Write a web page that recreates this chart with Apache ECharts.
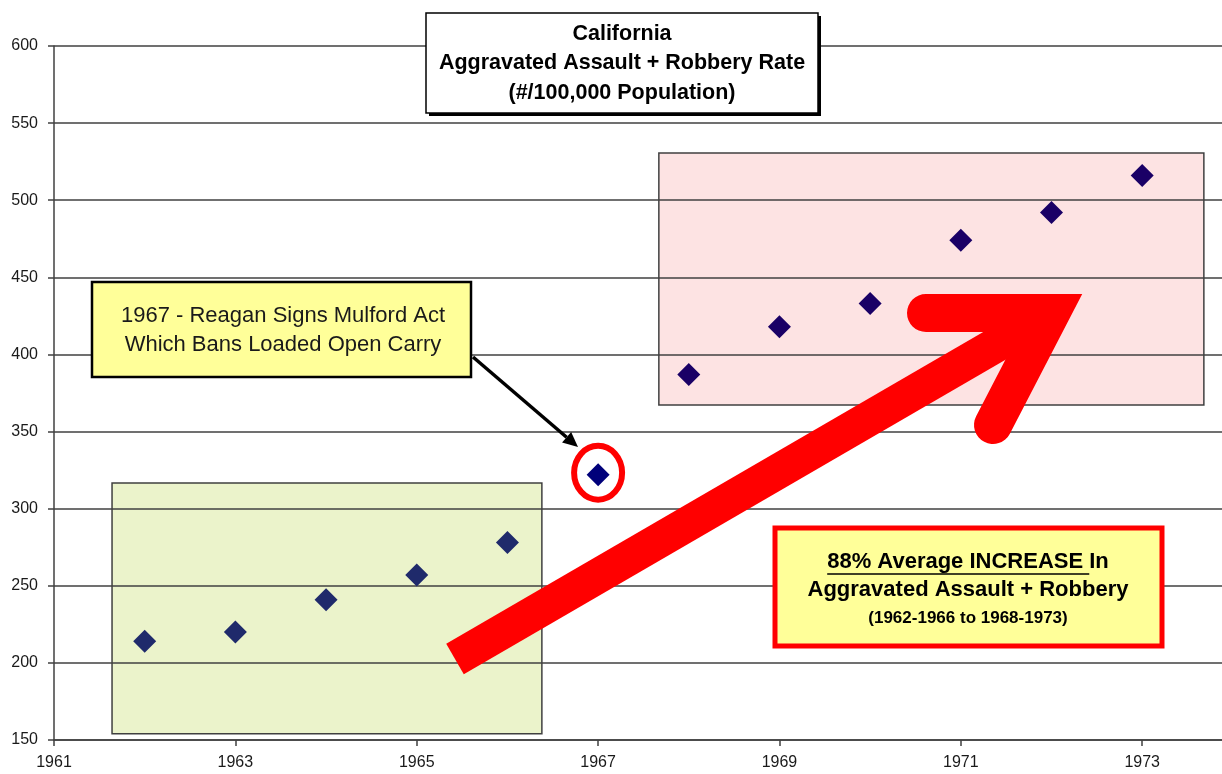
<!DOCTYPE html>
<html>
<head>
<meta charset="utf-8">
<script src="https://cdn.jsdelivr.net/npm/echarts@6/dist/echarts.min.js"></script>
<style>
  html, body { margin: 0; padding: 0; background: #fff; }
  #chart { width: 1222px; height: 774px; }
</style>
</head>
<body>
<div id="chart"></div>
<script>
  // data
  var years = [1962, 1963, 1964, 1965, 1966, 1967, 1968, 1969, 1970, 1971, 1972, 1973];
  var rates = [214, 220, 241, 257, 278, 322, 387, 418, 433, 474, 492, 516];

  // x axis runs a little past 1973 (plot is cut at the right edge)
  var xMin = 1961, xMax = 1973.88, xStep = 2;
  var yMin = 150, yMax = 600, yStep = 50;

  // shaded periods: [x0, y0, x1, y1] in data units
  var periodBoxes = [
    [1961.64, 154, 1966.38, 316.7],
    [1967.67, 367.2, 1973.68, 530.6]
  ];
  var boxFills = ["#ebf3cb", "#fde3e3"];

  var markedYear = 1967;
  var FONT = "'Liberation Sans', Arial, sans-serif";

  var points = years.map(function (y, i) { return [y, rates[i]]; });

  var myChart = echarts.init(document.getElementById("chart"));
  myChart.setOption({
    animation: false,
    grid: { left: 54, top: 46, right: 0, height: 694 },
    xAxis: {
      type: "value",
      min: xMin,
      max: xMax,
      interval: xStep,
      axisLine: { lineStyle: { color: "#404040", width: 1.5 } },
      axisTick: { length: 6, lineStyle: { color: "#404040", width: 1.5 } },
      axisLabel: {
        showMaxLabel: false,
        margin: 15,
        color: "#1a1a1a",
        fontFamily: FONT,
        fontSize: 16,
        formatter: function (v) { return String(v); }
      },
      splitLine: { show: false }
    },
    yAxis: {
      type: "value",
      min: yMin,
      max: yMax,
      interval: yStep,
      axisLine: { show: true, lineStyle: { color: "#404040", width: 1.5 } },
      axisTick: { show: true, length: 6, lineStyle: { color: "#404040", width: 1.5 } },
      axisLabel: { margin: 16, color: "#1a1a1a", fontFamily: FONT, fontSize: 16 },
      splitLine: { lineStyle: { color: "#404040", width: 1.5 } }
    },
    series: [
      {
        type: "custom",
        z: -1,
        silent: true,
        data: periodBoxes,
        renderItem: function (params, api) {
          var p0 = api.coord([api.value(0), api.value(3)]);
          var p1 = api.coord([api.value(2), api.value(1)]);
          return {
            type: "rect",
            shape: { x: p0[0], y: p0[1], width: p1[0] - p0[0], height: p1[1] - p0[1] },
            style: { fill: boxFills[params.dataIndex], stroke: "#404040", lineWidth: 1.5 }
          };
        }
      },
      {
        type: "scatter",
        symbol: "diamond",
        symbolSize: [23, 23],
        z: 3,
        data: points,
        itemStyle: {
          opacity: 1,
          color: function (p) {
            var yr = p.data[0];
            if (yr < markedYear) return "#1f2a6b";
            if (yr === markedYear) return "#00007a";
            return "#1a0066";
          }
        }
      }
    ]
  });

  // annotations
  var ctx = document.createElement("canvas").getContext("2d");
  ctx.font = "bold 22px " + FONT;
  var line1 = "88% Average INCREASE In";
  var fullW = ctx.measureText(line1).width;
  var ulW = ctx.measureText("88% Average INCREASE ").width;
  var cx88 = 968;
  var ulX0 = cx88 - fullW / 2;

  var mp = myChart.convertToPixel({ gridIndex: 0 }, [markedYear, rates[years.indexOf(markedYear)]]);

  // black pointer arrow
  var a0 = [473, 357], a1 = [578, 447];
  var dx = a1[0] - a0[0], dy = a1[1] - a0[1], dl = Math.sqrt(dx * dx + dy * dy);
  var ux = dx / dl, uy = dy / dl;
  var hb = [a1[0] - 15 * ux, a1[1] - 15 * uy];

  myChart.setOption({
    graphic: [
      // title box
      { type: "rect", z: 10, shape: { x: 429, y: 16, width: 392, height: 100 }, style: { fill: "#000" } },
      { type: "rect", z: 11, shape: { x: 426, y: 13, width: 392, height: 100 }, style: { fill: "#fff", stroke: "#000", lineWidth: 1.5 } },
      { type: "text", z: 12, x: 622, y: 34, style: { text: "California", font: "bold 21.5px " + FONT, fill: "#000", align: "center", verticalAlign: "middle" } },
      { type: "text", z: 12, x: 622, y: 63, style: { text: "Aggravated Assault + Robbery Rate", font: "bold 21.5px " + FONT, fill: "#000", align: "center", verticalAlign: "middle" } },
      { type: "text", z: 12, x: 622, y: 93, style: { text: "(#/100,000 Population)", font: "bold 21.5px " + FONT, fill: "#000", align: "center", verticalAlign: "middle" } },

      // Mulford Act callout
      { type: "rect", z: 11, shape: { x: 92, y: 282, width: 379, height: 95 }, style: { fill: "#ffff99", stroke: "#000", lineWidth: 2.5 } },
      { type: "text", z: 12, x: 283, y: 316, style: { text: "1967 - Reagan Signs Mulford Act", font: "22px " + FONT, fill: "#1a1a1a", align: "center", verticalAlign: "middle" } },
      { type: "text", z: 12, x: 283, y: 345, style: { text: "Which Bans Loaded Open Carry", font: "22px " + FONT, fill: "#1a1a1a", align: "center", verticalAlign: "middle" } },
      { type: "line", z: 11, shape: { x1: a0[0], y1: a0[1], x2: hb[0], y2: hb[1] }, style: { stroke: "#000", lineWidth: 3.5 } },
      {
        type: "polygon", z: 11,
        shape: { points: [a1, [hb[0] - 7 * uy, hb[1] + 7 * ux], [hb[0] + 7 * uy, hb[1] - 7 * ux]] },
        style: { fill: "#000" }
      },

      // red ring around 1967
      { type: "ellipse", z: 11, shape: { cx: mp[0], cy: mp[1] - 2, rx: 24, ry: 27 }, style: { fill: null, stroke: "#ff0000", lineWidth: 6 } },

      // big red arrow
      { type: "line", z: 13, shape: { x1: 455, y1: 659, x2: 1051, y2: 313 }, style: { stroke: "#ff0000", lineWidth: 35, lineCap: "butt" } },
      {
        type: "polyline", z: 13,
        shape: { points: [[926, 313], [1051, 313], [993, 425]] },
        style: { fill: null, stroke: "#ff0000", lineWidth: 38, lineCap: "round", lineJoin: "miter", miterLimit: 10 }
      },

      // 88% box
      { type: "rect", z: 11, shape: { x: 775, y: 528, width: 387, height: 118 }, style: { fill: "#ffff99", stroke: "#ff0000", lineWidth: 5 } },
      { type: "text", z: 12, x: cx88, y: 562, style: { text: line1, font: "bold 22px " + FONT, fill: "#000", align: "center", verticalAlign: "middle" } },
      { type: "line", z: 12, shape: { x1: ulX0, y1: 574, x2: ulX0 + ulW, y2: 574 }, style: { stroke: "#000", lineWidth: 1.5 } },
      { type: "text", z: 12, x: cx88, y: 590, style: { text: "Aggravated Assault + Robbery", font: "bold 22px " + FONT, fill: "#000", align: "center", verticalAlign: "middle" } },
      { type: "text", z: 12, x: cx88, y: 618, style: { text: "(1962-1966 to 1968-1973)", font: "bold 17px " + FONT, fill: "#000", align: "center", verticalAlign: "middle" } }
    ]
  });
</script>
</body>
</html>
